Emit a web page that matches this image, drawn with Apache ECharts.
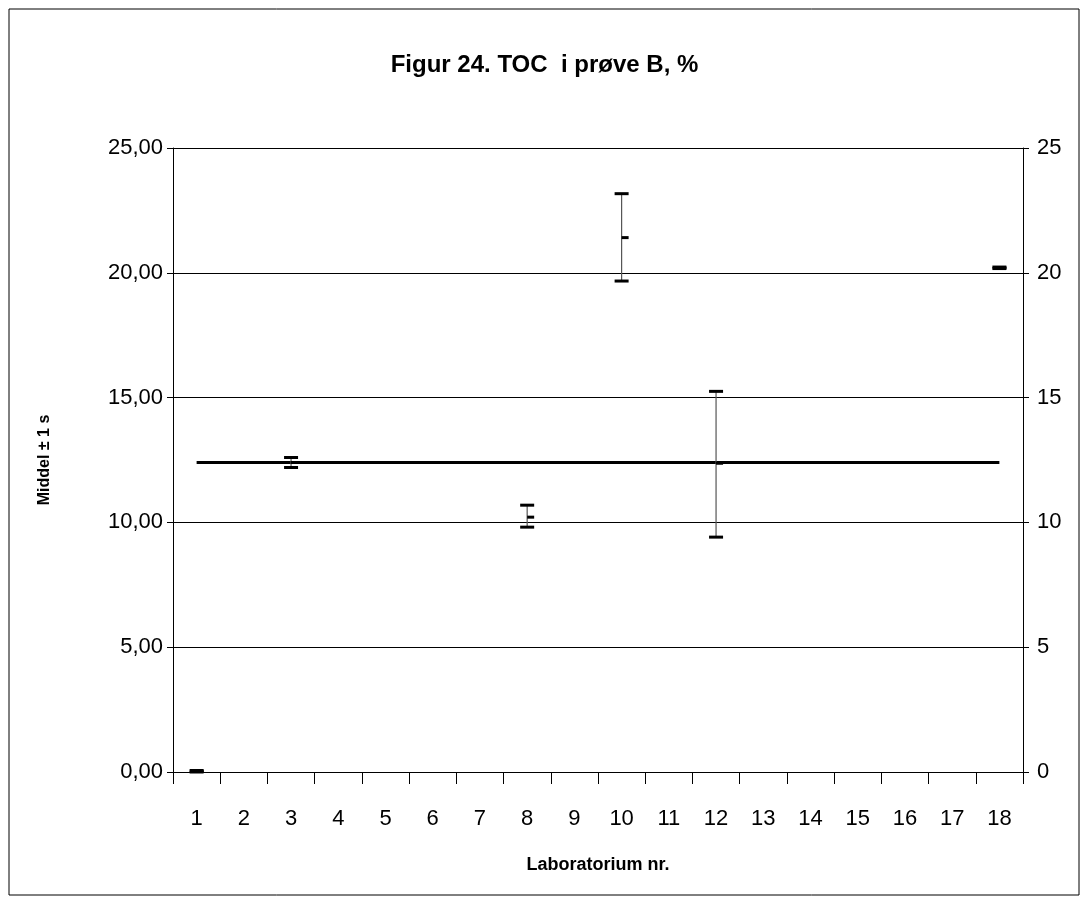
<!DOCTYPE html>
<html><head><meta charset="utf-8">
<script src="https://cdn.jsdelivr.net/npm/echarts@6/dist/echarts.min.js"></script>
<style>html,body{margin:0;padding:0;background:#fff}#c{width:1089px;height:904px}</style>
</head><body><div id="c"></div>
<script>
const categories = ['1','2','3','4','5','6','7','8','9','10','11','12','13','14','15','16','17','18'];
const labs = ['1','3','8','10','12','18'];
const means = [0.03, 12.40, 10.21, 21.41, 12.37, 20.20];
const lows  = [0.00, 12.20, 9.81, 19.67, 9.41, 20.17];
const highs = [0.06, 12.60, 10.69, 23.17, 15.25, 20.23];
const overallMean = 12.40;

const chart = echarts.init(document.getElementById('c'));
const errData = labs.map((l,i)=>[l, lows[i], highs[i], means[i]]);
chart.setOption({
  animation:false,
  graphic:[{type:'rect',shape:{x:9,y:9,width:1070,height:886},style:{fill:'none',stroke:'#000',lineWidth:1}}],
  title:{text:'Figur 24. TOC  i prøve B, %',left:'center',top:48,textStyle:{fontFamily:'Liberation Sans',fontSize:24,fontWeight:'bold',color:'#000'}},
  grid:{left:173,right:66,top:148,bottom:132},
  xAxis:{type:'category',data:categories,boundaryGap:true,
    name:'Laboratorium nr.',nameLocation:'middle',nameGap:84,
    nameTextStyle:{fontFamily:'Liberation Sans',fontSize:18,fontWeight:'bold',color:'#000'},
    axisLine:{lineStyle:{color:'#000'}},axisTick:{show:true,length:12,inside:false,lineStyle:{color:'#000'}},
    axisLabel:{fontFamily:'Liberation Sans',fontSize:22,color:'#000',margin:36}},
  yAxis:[{type:'value',min:0,max:25,interval:5,
    name:'Middel ± 1 s',nameLocation:'middle',nameGap:120,nameRotate:90,
    nameTextStyle:{fontFamily:'Liberation Sans',fontSize:16,fontWeight:'bold',color:'#000'},
    axisLine:{show:true,lineStyle:{color:'#000'}},axisTick:{show:true,length:6,lineStyle:{color:'#000'}},
    axisLabel:{fontFamily:'Liberation Sans',fontSize:22,color:'#000',margin:10,formatter:v=>v.toFixed(2).replace('.',',')},
    splitLine:{lineStyle:{color:'#000',width:1}}},
   {type:'value',min:0,max:25,interval:5,position:'right',
    axisLine:{show:true,lineStyle:{color:'#000'}},axisTick:{show:true,length:6,lineStyle:{color:'#000'}},
    axisLabel:{fontFamily:'Liberation Sans',fontSize:22,color:'#000',margin:14},splitLine:{show:false}}],
  series:[
    {type:'line',data:categories.map(()=>overallMean),symbol:'none',lineStyle:{color:'#000',width:3},z:3},
    {type:'custom',z:4,data:errData,
     renderItem:(params,api)=>{
       const x=api.coord([api.value(0),0])[0];
       const yl=api.coord([api.value(0),api.value(1)])[1];
       const yh=api.coord([api.value(0),api.value(2)])[1];
       const ym=api.coord([api.value(0),api.value(3)])[1];
       const w=7;
       return {type:'group',children:[
         {type:'line',shape:{x1:x,y1:yh,x2:x,y2:yl},style:{stroke:'#555',lineWidth:1.2}},
         {type:'line',shape:{x1:x-w,y1:yh,x2:x+w,y2:yh},style:{stroke:'#000',lineWidth:3}},
         {type:'line',shape:{x1:x-w,y1:yl,x2:x+w,y2:yl},style:{stroke:'#000',lineWidth:3}},
         {type:'line',shape:{x1:x,y1:ym,x2:x+7,y2:ym},style:{stroke:'#000',lineWidth:3}}
       ]};
     }}
  ]
});
</script></body></html>
